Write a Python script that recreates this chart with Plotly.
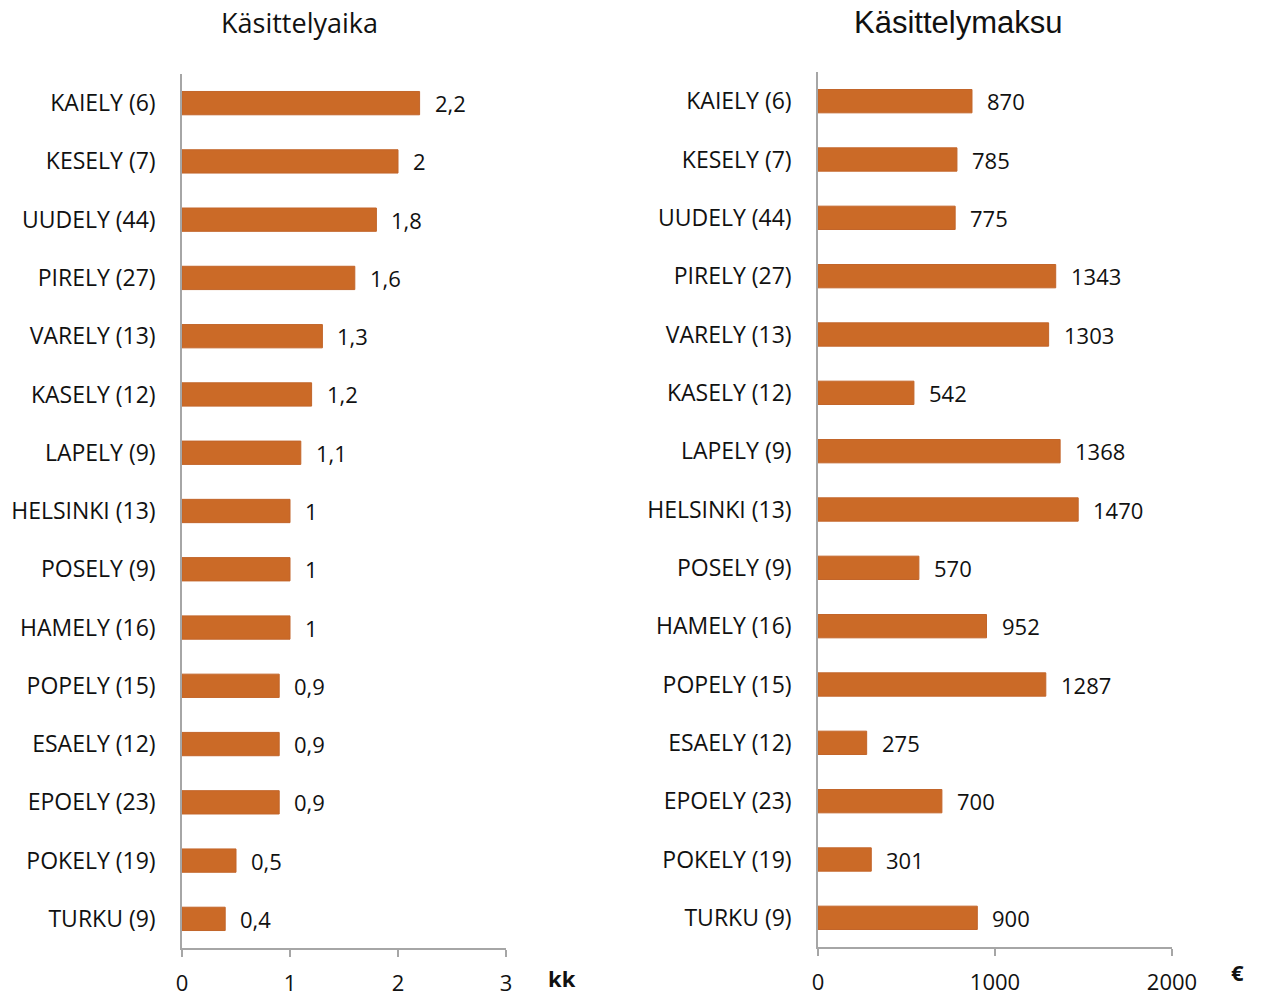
import plotly.graph_objects as go

# Data
regions = ["KAIELY (6)", "KESELY (7)", "UUDELY (44)", "PIRELY (27)", "VARELY (13)",
           "KASELY (12)", "LAPELY (9)", "HELSINKI (13)", "POSELY (9)", "HAMELY (16)",
           "POPELY (15)", "ESAELY (12)", "EPOELY (23)", "POKELY (19)", "TURKU (9)"]
kasittelyaika = [2.2, 2.0, 1.8, 1.6, 1.3, 1.2, 1.1, 1.0, 1.0, 1.0, 0.9, 0.9, 0.9, 0.5, 0.4]
kasittelymaksu = [870, 785, 775, 1343, 1303, 542, 1368, 1470, 570, 952, 1287, 275, 700, 301, 900]

BAR = "#CB6A27"
AXIS = "#A6A6A6"
FONT = "Open Sans"
W, H = 1264, 996


def fmt(v):
    return ("%g" % v).replace(".", ",")


fig = go.Figure()

fig.add_trace(go.Bar(
    x=kasittelyaika, y=regions, orientation="h",
    marker=dict(color=BAR, line=dict(color="#C2652A", width=1)),
    xaxis="x", yaxis="y", showlegend=False,
))
fig.add_trace(go.Bar(
    x=kasittelymaksu, y=regions, orientation="h",
    marker=dict(color=BAR, line=dict(color="#C2652A", width=1)),
    xaxis="x2", yaxis="y2", showlegend=False,
))

annotations = []
for r, v in zip(regions, kasittelyaika):
    annotations.append(dict(x=v, y=r, xref="x", yref="y", text=fmt(v), showarrow=False,
                            xanchor="left", xshift=13, font=dict(size=22, color="#111")))
for r, v in zip(regions, kasittelymaksu):
    annotations.append(dict(x=v, y=r, xref="x2", yref="y2", text=str(v), showarrow=False,
                            xanchor="left", xshift=13, font=dict(size=22, color="#111")))

# titles and unit labels
annotations += [
    dict(x=299 / W, y=1 - 22 / H, xref="paper", yref="paper", text="Käsittelyaika",
         showarrow=False, xanchor="center", yanchor="middle",
         font=dict(size=27, family=FONT, color="#111")),
    dict(x=958 / W, y=1 - 22 / H, xref="paper", yref="paper", text="Käsittelymaksu",
         showarrow=False, xanchor="center", yanchor="middle",
         font=dict(size=31, family="Liberation Sans", color="#111")),
    dict(x=562 / W, y=1 - 978 / H, xref="paper", yref="paper", text="<b>kk</b>",
         showarrow=False, xanchor="center", yanchor="middle",
         font=dict(size=22, family=FONT, color="#111")),
    dict(x=1237 / W, y=1 - 972 / H, xref="paper", yref="paper", text="<b>€</b>",
         showarrow=False, xanchor="center", yanchor="middle",
         font=dict(size=22, family=FONT, color="#111")),
]

n = len(regions)
common_x = dict(showline=True, linecolor=AXIS, linewidth=1.5, showgrid=False, zeroline=False,
                ticks="outside", ticklen=7, tickcolor=AXIS, tickwidth=1.5, automargin=False,
                tickfont=dict(size=22, color="#111"), ticklabelstandoff=8)
common_y = dict(showline=True, linecolor=AXIS, linewidth=1.5, showgrid=False, zeroline=False,
                ticks="", tickfont=dict(size=23, color="#111"), ticklabelstandoff=20,
                automargin=False, range=[n - 0.5, -0.5], type="category")

fig.update_layout(
    width=W, height=H,
    margin=dict(l=0, r=0, t=0, b=0, autoexpand=False),
    paper_bgcolor="white", plot_bgcolor="white",
    font=dict(family=FONT, color="#111"),
    bargap=0.6,
    xaxis=dict(domain=[182 / W, 506 / W], range=[0, 3], dtick=1, anchor="y", **common_x),
    yaxis=dict(domain=[1 - 948 / H, 1 - 74 / H], anchor="x", **common_y),
    xaxis2=dict(domain=[818 / W, 1172 / W], range=[0, 2000], dtick=1000, anchor="y2", **common_x),
    yaxis2=dict(domain=[1 - 947 / H, 1 - 72 / H], anchor="x2", **common_y),
    annotations=annotations,
)

fig.write_html("out.html", config={"responsive": False, "displayModeBar": False},
               post_script="document.body.style.margin='0';document.body.style.overflow='hidden';")
